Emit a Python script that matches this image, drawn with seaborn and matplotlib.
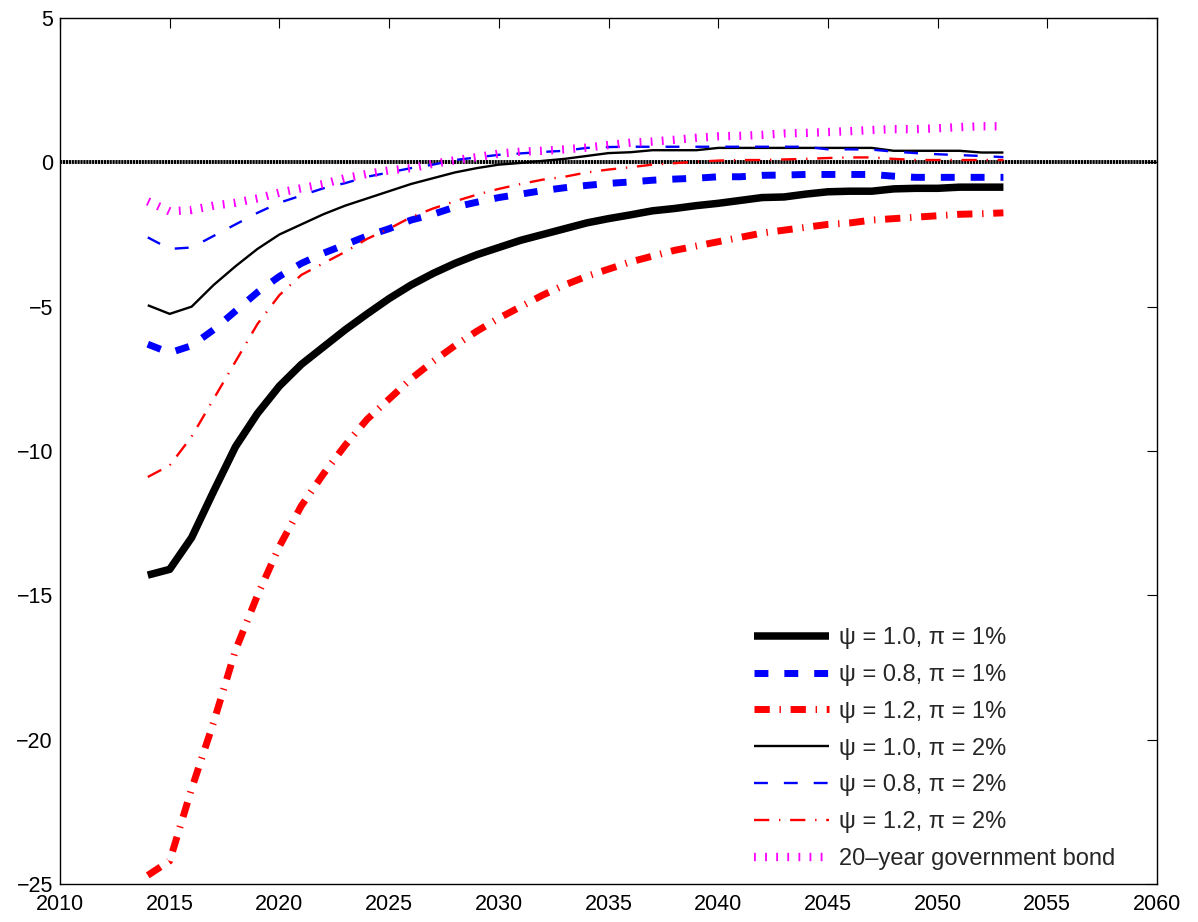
import numpy as np
import pandas as pd
import matplotlib
matplotlib.use("Agg")
import matplotlib.pyplot as plt
import seaborn as sns

years = list(range(2014, 2054))

psi10_pi1 = [-14.3, -14.1, -13.0, -11.4, -9.85, -8.7, -7.75, -7.0, -6.4, -5.8,
             -5.25, -4.72, -4.25, -3.85, -3.5, -3.2, -2.95, -2.7, -2.5, -2.3,
             -2.1, -1.95, -1.82, -1.68, -1.6, -1.5, -1.42, -1.32, -1.22, -1.2,
             -1.1, -1.02, -1.0, -1.0, -0.92, -0.9, -0.9, -0.86, -0.86, -0.86]
psi08_pi1 = [-6.3, -6.6, -6.35, -5.8, -5.15, -4.5, -3.95, -3.5, -3.15, -2.85,
             -2.55, -2.3, -2.0, -1.8, -1.55, -1.38, -1.22, -1.1, -0.98, -0.88,
             -0.8, -0.73, -0.68, -0.62, -0.58, -0.55, -0.5, -0.5, -0.45, -0.44,
             -0.42, -0.42, -0.42, -0.42, -0.48, -0.52, -0.52, -0.52, -0.52, -0.52]
psi12_pi1 = [-24.7, -24.2, -21.7, -19.4, -16.9, -15.0, -13.3, -11.9, -10.8, -9.8,
             -8.9, -8.2, -7.5, -6.9, -6.35, -5.85, -5.4, -5.0, -4.6, -4.25,
             -3.95, -3.7, -3.45, -3.25, -3.05, -2.9, -2.75, -2.6, -2.45, -2.35,
             -2.25, -2.15, -2.1, -2.0, -1.95, -1.9, -1.85, -1.8, -1.78, -1.75]
psi10_pi2 = [-4.95, -5.25, -5.0, -4.25, -3.6, -3.0, -2.5, -2.15, -1.8, -1.5,
             -1.25, -1.0, -0.75, -0.55, -0.35, -0.2, -0.08, -0.02, 0.05, 0.12,
             0.22, 0.32, 0.35, 0.42, 0.42, 0.42, 0.5, 0.5, 0.5, 0.5,
             0.5, 0.5, 0.5, 0.5, 0.4, 0.4, 0.4, 0.4, 0.34, 0.34]
psi08_pi2 = [-2.6, -3.0, -2.95, -2.55, -2.15, -1.75, -1.4, -1.15, -0.9, -0.72,
             -0.5, -0.35, -0.2, -0.08, 0.08, 0.17, 0.26, 0.31, 0.36, 0.4,
             0.5, 0.53, 0.54, 0.54, 0.54, 0.54, 0.54, 0.54, 0.54, 0.54,
             0.54, 0.45, 0.45, 0.44, 0.37, 0.32, 0.28, 0.25, 0.22, 0.18]
psi12_pi2 = [-10.9, -10.5, -9.5, -8.2, -6.9, -5.6, -4.6, -3.9, -3.5, -3.1,
             -2.65, -2.3, -1.9, -1.6, -1.35, -1.12, -0.92, -0.75, -0.6, -0.5,
             -0.35, -0.25, -0.17, -0.08, -0.03, 0.02, 0.06, 0.08, 0.08, 0.1,
             0.12, 0.15, 0.17, 0.17, 0.12, 0.08, 0.08, 0.08, 0.08, 0.08]
bond20 = [-1.35, -1.7, -1.65, -1.5, -1.4, -1.25, -1.05, -0.9, -0.75, -0.55,
          -0.4, -0.28, -0.2, -0.05, 0.07, 0.18, 0.3, 0.37, 0.4, 0.45,
          0.51, 0.6, 0.68, 0.72, 0.78, 0.85, 0.9, 0.92, 0.95, 1.0,
          1.02, 1.05, 1.08, 1.12, 1.15, 1.15, 1.18, 1.22, 1.25, 1.25]

labels = ["ψ = 1.0, π = 1%", "ψ = 0.8, π = 1%", "ψ = 1.2, π = 1%",
          "ψ = 1.0, π = 2%", "ψ = 0.8, π = 2%", "ψ = 1.2, π = 2%",
          "20–year government bond"]
series = [psi10_pi1, psi08_pi1, psi12_pi1, psi10_pi2, psi08_pi2, psi12_pi2, bond20]

x_ticks = list(range(2010, 2061, 5))
y_ticks = [5, 0, -5, -10, -15, -20, -25]

sns.set_theme(style="white")
plt.rcParams["font.family"] = ["Liberation Sans", "DejaVu Sans"]
plt.rcParams["lines.scale_dashes"] = False
plt.rcParams["axes.unicode_minus"] = True

styles = [
    dict(color="black", linewidth=5.4, linestyle="-"),
    dict(color="#0000ff", linewidth=5.0, linestyle=(0, (10, 11.5))),
    dict(color="#ff0000", linewidth=5.0, linestyle=(0, (11, 7, 1, 7))),
    dict(color="black", linewidth=1.7, linestyle="-"),
    dict(color="#0000ff", linewidth=1.7, linestyle=(0, (10, 11.5))),
    dict(color="#ff0000", linewidth=1.7, linestyle=(0, (11, 7, 1, 7))),
    dict(color="#ff00ff", linewidth=6.0, linestyle=(0, (1.3, 6.7))),
]

fig = plt.figure(figsize=(11.98, 9.22), dpi=100)
ax = fig.add_axes([60 / 1198, 1 - 884 / 922, 1097 / 1198, 866 / 922])

# zero line
ax.axhline(0, color="black", linewidth=2.8, linestyle=(0, (1.6, 0.5)), zorder=1.5)

handles = []
for lab, vals, st in zip(labels, series, styles):
    df = pd.DataFrame({"year": years, "value": vals})
    sns.lineplot(data=df, x="year", y="value", ax=ax, label=lab,
                 solid_capstyle="butt", dash_capstyle="butt", **st)
    handles.append(ax.lines[-1])

ax.set_xlim(2010, 2060)
ax.set_ylim(-25, 5)
ax.set_xticks(x_ticks)
ax.set_yticks(y_ticks)
ax.set_xlabel("")
ax.set_ylabel("")
ax.tick_params(axis="both", direction="in", length=7, width=0.8, labelsize=15.5,
               top=True, right=True, colors="black")
ax.tick_params(axis="x", pad=7)
ax.tick_params(axis="y", pad=5)
for sp in ax.spines.values():
    sp.set_color("black")
    sp.set_linewidth(1.0)

leg = ax.legend(handles=handles, labels=labels, loc="lower right",
                bbox_to_anchor=(0.962, 0.016), frameon=False, fontsize=17,
                handlelength=3.2, handletextpad=0.42, labelspacing=0.63,
                borderpad=0, borderaxespad=0)

fig.savefig("out.png", dpi=100)
